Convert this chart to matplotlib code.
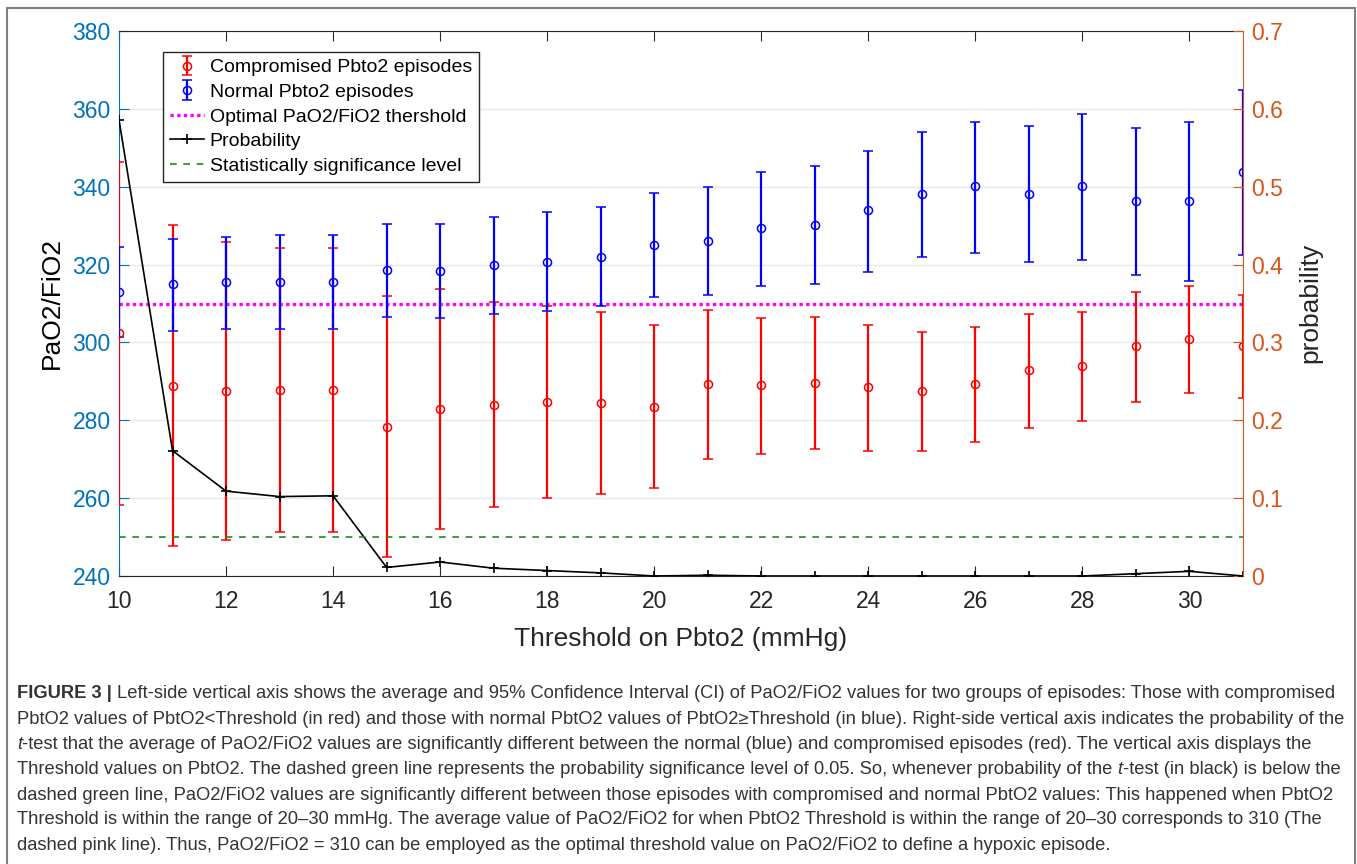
import matplotlib
matplotlib.use("Agg")
import matplotlib.pyplot as plt
from matplotlib import font_manager
from matplotlib.patches import Rectangle
from matplotlib.transforms import IdentityTransform
import numpy as np

plt.rcParams['font.family'] = ['Liberation Sans', 'DejaVu Sans']

# values
thresholds = list(range(10, 32))
comp_mean = [302.3, 288.8, 287.6, 287.9, 287.9, 278.4, 283.0, 284.0, 284.7, 284.5, 283.5,
             289.2, 289.0, 289.6, 288.5, 287.5, 289.4, 292.9, 294.0, 299.0, 300.9, 299.2]
comp_low = [258.2, 247.7, 249.2, 251.3, 251.3, 244.9, 252.2, 257.8, 260.0, 261.1, 262.6,
            270.0, 271.3, 272.6, 272.2, 272.0, 274.3, 278.1, 279.9, 284.8, 287.0, 285.8]
comp_high = [346.4, 330.2, 325.8, 324.3, 324.3, 311.8, 313.6, 310.3, 309.4, 307.9, 304.5,
             308.4, 306.3, 306.5, 304.5, 302.8, 303.9, 307.3, 307.9, 313.0, 314.5, 312.3]
norm_mean = [313.0, 314.9, 315.6, 315.6, 315.6, 318.6, 318.4, 320.0, 320.7, 322.0, 325.1,
             326.0, 329.3, 330.2, 333.9, 338.2, 340.1, 338.2, 340.1, 336.3, 336.3, 343.7]
norm_low = [301.5, 302.9, 303.5, 303.5, 303.5, 306.6, 306.4, 307.3, 308.1, 309.3, 311.6,
            312.1, 314.5, 315.1, 318.2, 322.0, 322.9, 320.6, 321.2, 317.3, 315.9, 322.4]
norm_high = [324.6, 326.5, 327.1, 327.5, 327.5, 330.3, 330.3, 332.1, 333.4, 334.7, 338.5,
             339.9, 343.8, 345.3, 349.2, 354.0, 356.7, 355.5, 358.7, 355.1, 356.5, 364.8]
probability = [0.586, 0.161, 0.109, 0.102, 0.103, 0.011, 0.018, 0.010, 0.007, 0.004, 0.0,
               0.001, 0.0, 0.0, 0.0, 0.0, 0.0, 0.0, 0.0, 0.003, 0.006, 0.0]
optimal_ratio = 310
significance = 0.05

x_ticks = list(range(10, 31, 2))
left_ticks = list(range(240, 381, 20))
right_ticks = [0, 0.1, 0.2, 0.3, 0.4, 0.5, 0.6, 0.7]
right_labels = ['0', '0.1', '0.2', '0.3', '0.4', '0.5', '0.6', '0.7']
legend_labels = ['Compromised Pbto2 episodes', 'Normal Pbto2 episodes',
                 'Optimal PaO2/FiO2 thershold', 'Probability',
                 'Statistically significance level']

caption = [
    [("FIGURE 3 | ", 'bold'),
     ("Left-side vertical axis shows the average and 95% Confidence Interval (CI) of PaO2/FiO2 "
      "values for two groups of episodes: Those with compromised", 'normal')],
    [("PbtO2 values of PbtO2<Threshold (in red) and those with normal PbtO2 values of "
      "PbtO2\u2265Threshold (in blue). Right-side vertical axis indicates the probability of the", 'normal')],
    [("t", 'italic'),
     ("-test that the average of PaO2/FiO2 values are significantly different between the normal "
      "(blue) and compromised episodes (red). The vertical axis displays the", 'normal')],
    [("Threshold values on PbtO2. The dashed green line represents the probability significance "
      "level of 0.05. So, whenever probability of the ", 'normal'),
     ("t", 'italic'), ("-test (in black) is below the", 'normal')],
    [("dashed green line, PaO2/FiO2 values are significantly different between those episodes "
      "with compromised and normal PbtO2 values: This happened when PbtO2", 'normal')],
    [("Threshold is within the range of 20\u201330 mmHg. The average value of PaO2/FiO2 for when "
      "PbtO2 Threshold is within the range of 20\u201330 corresponds to 310 (The", 'normal')],
    [("dashed pink line). Thus, PaO2/FiO2 = 310 can be employed as the optimal threshold value "
      "on PaO2/FiO2 to define a hypoxic episode.", 'normal')],
]

W, H = 1357, 864
fig = plt.figure(figsize=(W / 100, H / 100), dpi=100)
ax = fig.add_axes([119 / W, 1 - 576 / H, 1124 / W, 545 / H])
ax2 = ax.twinx()

x = np.array(thresholds)
cm, cl, ch = np.array(comp_mean), np.array(comp_low), np.array(comp_high)
nm, nl, nh = np.array(norm_mean), np.array(norm_low), np.array(norm_high)

comp = ax.errorbar(x, cm, yerr=[cm - cl, ch - cm], fmt='o', color='#ff0000', mfc='none',
                   ms=5.8, mew=1.1, elinewidth=1.6, capsize=3.8, capthick=1.6, zorder=3)
norm = ax.errorbar(x, nm, yerr=[nm - nl, nh - nm], fmt='o', color='#0000ff', mfc='none',
                   ms=5.8, mew=1.1, elinewidth=1.6, capsize=3.8, capthick=1.6, zorder=3)
opt = ax.axhline(optimal_ratio, color='#ff00ff', ls=(0, (1, 1)), lw=2.4, zorder=2)

prob, = ax2.plot(x, probability, color='k', marker='+', ms=7, mew=1.2, lw=1.2)
sig = ax2.axhline(significance, color='#1e8c1e', ls=(0, (4, 4)), lw=1.2)

ax.set_xlim(10, 31)
ax.set_ylim(240, 380)
ax2.set_ylim(0, 0.7)
ax.set_xticks(x_ticks)
ax.set_yticks(left_ticks)
ax2.set_yticks(right_ticks)
ax2.set_yticklabels(right_labels)

ax.yaxis.grid(True, color='#e2e9f1', lw=1.0)
ax.set_axisbelow(True)

blue = '#0072BD'
orange = '#D95319'
dark = '#262626'
ax.spines['left'].set_color(blue)
ax.spines['right'].set_visible(False)
ax.spines['top'].set_color(dark)
ax.spines['bottom'].set_color(dark)
for s in ['left', 'top', 'bottom']:
    ax2.spines[s].set_visible(False)
ax2.spines['right'].set_color(orange)

ax.tick_params(axis='x', direction='in', top=True, length=7, colors=dark, labelsize=16.5, pad=10)
ax.tick_params(axis='y', direction='in', length=7, colors=blue, labelsize=16.5, pad=6)
ax2.tick_params(axis='y', direction='in', length=7, colors=orange, labelsize=16.5, pad=6)

fig.text(52 / W, 1 - 303 / H, 'PaO2/FiO2', rotation=90, ha='center', va='center',
         fontsize=19, color='k')
fig.text(681 / W, 1 - 646 / H, 'Threshold on Pbto2 (mmHg)', ha='center', va='baseline',
         fontsize=19, color=dark)
fig.text(1310 / W, 1 - 303 / H, 'probability', rotation=90, ha='center', va='center',
         fontsize=19, color=dark)

leg = ax2.legend([comp, norm, opt, prob, sig], legend_labels, loc='upper left',
                 bbox_to_anchor=((163 - 119) / 1124, (576 - 52) / 545), borderaxespad=0,
                 fontsize=14, fancybox=False, framealpha=1, edgecolor=dark,
                 handlelength=1.75, handletextpad=0.3, labelspacing=0.36, borderpad=0.35)
leg.get_frame().set_linewidth(1.0)

# outer frame (bottom edge runs off the image)
fig.add_artist(Rectangle((7, -20), 1348, H - 8 + 20, transform=IdentityTransform(),
                         fill=False, edgecolor='#808080', lw=1.5))

# caption
try:
    font_manager.findfont('Liberation Sans Narrow', fallback_to_default=False)
    cap_font = ['Liberation Sans Narrow', 'DejaVu Sans']
except ValueError:
    cap_font = ['Liberation Sans', 'DejaVu Sans']

renderer = fig.canvas.get_renderer()


def draw_line(y, segments, size, keep=True):
    xpos = 17
    made = []
    for txt, style in segments:
        t = fig.text(xpos, y, txt, transform=IdentityTransform(), fontsize=size,
                     family=cap_font, color='#333333', va='baseline',
                     fontweight='bold' if style == 'bold' else 'normal',
                     fontstyle='italic' if style == 'italic' else 'normal')
        xpos += t.get_window_extent(renderer).width
        made.append(t)
    if not keep:
        for t in made:
            t.remove()
    return xpos


width = max(draw_line(0, segs, 13, keep=False) for segs in caption) - 17
cap_size = 13 * 1323 / width
baselines = [698, 723.5, 749, 774, 799.5, 824.5, 849.5]
for b, segs in zip(baselines, caption):
    draw_line(H - b, segs, cap_size)

fig.savefig('out.png', dpi=100)
